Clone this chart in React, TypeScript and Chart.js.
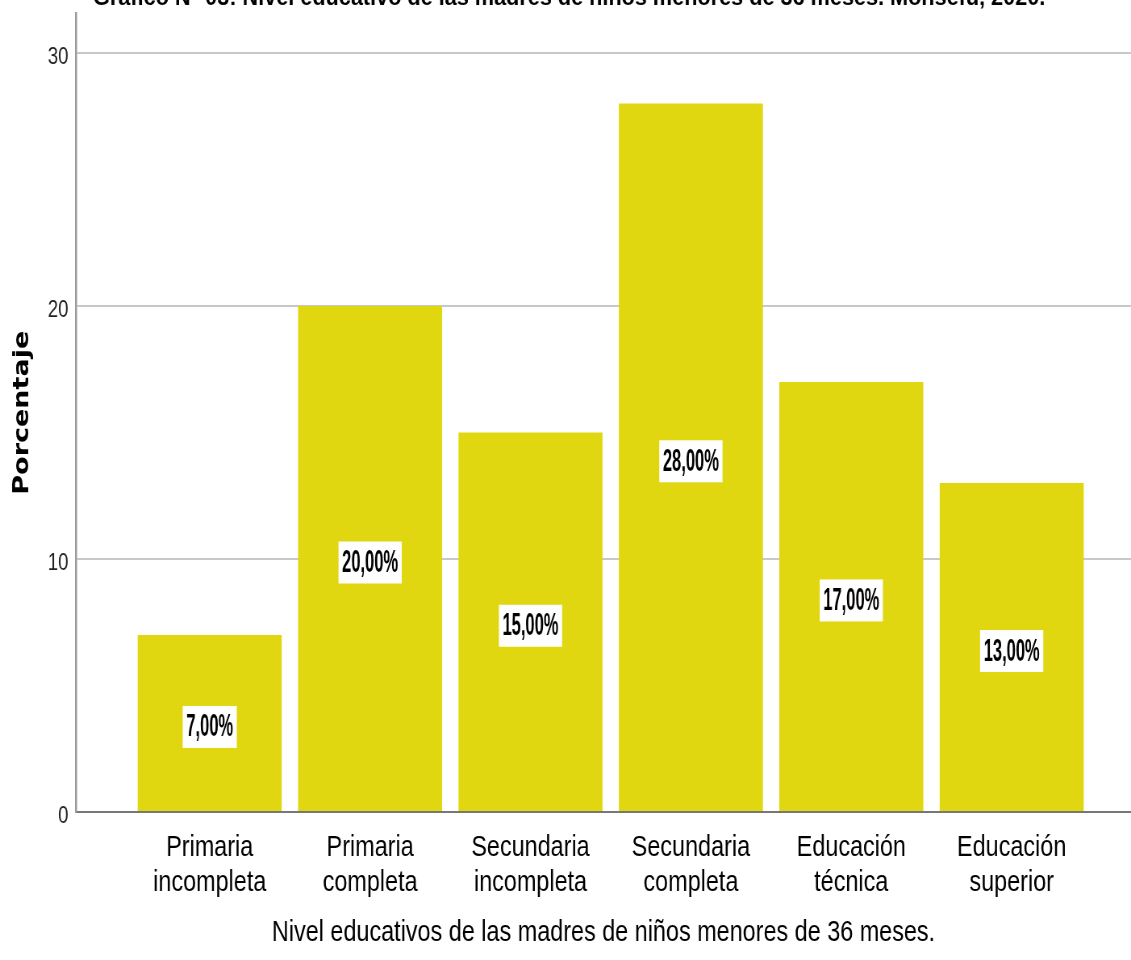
import React, { useEffect, useRef } from 'react';
import { Chart, registerables } from 'chart.js';

Chart.register(...registerables);

// ---- data ----
const categoryLines: string[][] = [
  ['Primaria', 'incompleta'],
  ['Primaria', 'completa'],
  ['Secundaria', 'incompleta'],
  ['Secundaria', 'completa'],
  ['Educación', 'técnica'],
  ['Educación', 'superior'],
];
const percentages: number[] = [7, 20, 15, 28, 17, 13];
const yTickStep = 10;
const yMax = 31.56;
const xMin = -0.8335;
const xMax = 5.744;
const chartTitle =
  'Gráfico N° 03: Nivel educativo de las madres de niños menores de 36 meses. Monsefú, 2020.';
const xAxisTitle = 'Nivel educativos de las madres de niños menores de 36 meses.';
const yAxisTitle = 'Porcentaje';

// ---- layout ----
const SQUEEZE = 1.24; // the reference is horizontally compressed
const CSS_W = 1131;
const CSS_H = 960;
const CANVAS_W = Math.round(CSS_W * SQUEEZE);
const PLOT_LEFT = 76 * SQUEEZE;
const PLOT_TOP = 13.5;
const PLOT_BOTTOM = 812;
const BAR_COLOR = '#e1d710';
const SANS = '"Liberation Sans", Arial, Helvetica, sans-serif';
const NARROW = '"Liberation Sans Narrow", "Arial Narrow", "Liberation Sans", Arial, sans-serif';

const fmt = (v: number) => v.toFixed(2).replace('.', ',') + '%';

const valueLabelPlugin = {
  id: 'valueLabels',
  afterDatasetsDraw(chart: any) {
    const ctx = chart.ctx as CanvasRenderingContext2D;
    const meta = chart.getDatasetMeta(0);
    const sx = 0.66;
    ctx.save();
    ctx.font = `bold 31px ${SANS}`;
    meta.data.forEach((el: any, i: number) => {
      const text = fmt(percentages[i]);
      const w = ctx.measureText(text).width * sx;
      const cx = el.x;
      const cy = (el.y + el.base) / 2 + 4;
      const bw = w + 9;
      const bh = 42;
      ctx.fillStyle = '#ffffff';
      ctx.fillRect(cx - bw / 2, cy - bh / 2, bw, bh);
      ctx.save();
      ctx.translate(cx, cy + 1);
      ctx.scale(sx, 1);
      ctx.fillStyle = '#000000';
      ctx.textAlign = 'center';
      ctx.textBaseline = 'middle';
      ctx.fillText(text, 0, 0);
      ctx.restore();
    });
    ctx.restore();
  },
};

const topTitlePlugin = {
  id: 'topTitle',
  afterDraw(chart: any) {
    const ctx = chart.ctx as CanvasRenderingContext2D;
    ctx.save();
    ctx.font = `bold 24px ${SANS}`;
    const w = ctx.measureText(chartTitle).width;
    const target = (1045 - 93) * SQUEEZE;
    ctx.translate(93 * SQUEEZE, 4.5);
    ctx.scale(target / w, 1);
    ctx.fillStyle = '#000000';
    ctx.textAlign = 'left';
    ctx.textBaseline = 'alphabetic';
    ctx.fillText(chartTitle, 0, 0);
    ctx.restore();
  },
};

export default function App() {
  const canvasRef = useRef<HTMLCanvasElement | null>(null);

  useEffect(() => {
    if (!canvasRef.current) return;
    const chart = new Chart(canvasRef.current, {
      type: 'bar',
      data: {
        datasets: [
          {
            data: percentages.map((v, i) => ({ x: i, y: v })),
            backgroundColor: BAR_COLOR,
            borderWidth: 0,
            barPercentage: 0.898,
            categoryPercentage: 1.0,
          } as any,
        ],
      },
      options: {
        responsive: false,
        devicePixelRatio: 1,
        animation: false,
        layout: { padding: { top: PLOT_TOP, right: 0, bottom: 0, left: 0 } },
        plugins: {
          legend: { display: false },
          tooltip: { enabled: false },
          title: { display: false },
        },
        scales: {
          x: {
            type: 'linear',
            min: xMin,
            max: xMax,
            offset: false,
            grid: { display: false, drawTicks: false },
            border: { display: true, color: '#777777', width: 2, z: 1 },
            ticks: {
              stepSize: 1,
              includeBounds: false,
              autoSkip: false,
              maxRotation: 0,
              minRotation: 0,
              padding: 19,
              color: '#000000',
              font: { family: SANS, size: 29, lineHeight: 1.2 },
              callback: (v: any) => {
                const n = Number(v);
                return Number.isInteger(n) && categoryLines[n] ? categoryLines[n] : '';
              },
            },
            title: {
              display: true,
              text: xAxisTitle,
              color: '#000000',
              font: { family: SANS, size: 29, lineHeight: 1.2 },
              padding: { top: 0, bottom: 9.5 },
            },
            afterFit: (scale: any) => {
              scale.height = CSS_H - PLOT_BOTTOM;
              scale.paddingLeft = 0;
              scale.paddingRight = 0;
            },
          },
          y: {
            type: 'linear',
            min: 0,
            max: yMax,
            grid: {
              drawTicks: false,
              lineWidth: 2,
              color: (c: any) => (c.tick && c.tick.value === 0 ? 'rgba(0,0,0,0)' : '#c8c8c8'),
            },
            border: { display: true, color: '#9a9a9a', width: 2.5, z: 1 },
            ticks: {
              stepSize: yTickStep,
              includeBounds: false,
              padding: 9.5,
              labelOffset: 5,
              color: '#222222',
              font: { family: NARROW, size: 23 },
            },
            title: {
              display: true,
              text: yAxisTitle,
              color: '#000000',
              font: { family: '"DejaVu Sans", sans-serif', size: 27, weight: 'bold', lineHeight: 1.2 },
              padding: { top: 11.7, bottom: 0 },
            },
            afterFit: (scale: any) => {
              scale.width = PLOT_LEFT;
              scale.paddingTop = 0;
              scale.paddingBottom = 0;
            },
          },
        },
      } as any,
      plugins: [valueLabelPlugin, topTitlePlugin],
    });
    return () => chart.destroy();
  }, []);

  return (
    <div style={{ position: 'absolute', left: 0, top: 0, width: CSS_W, height: CSS_H, overflow: 'hidden', background: '#ffffff' }}>
      <canvas
        ref={canvasRef}
        width={CANVAS_W}
        height={CSS_H}
        style={{ display: 'block', width: `${CSS_W}px`, height: `${CSS_H}px` }}
      />
    </div>
  );
}
